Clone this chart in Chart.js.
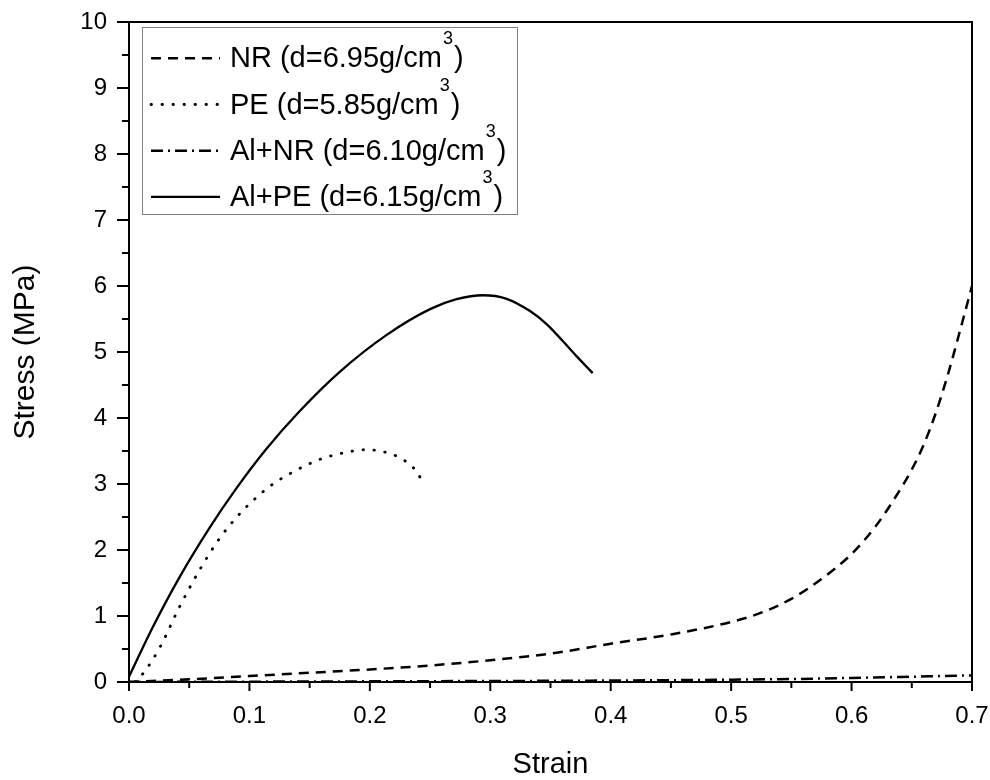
<!DOCTYPE html>
<html>
<head>
<meta charset="utf-8">
<title>Stress vs Strain</title>
<script src="https://cdn.jsdelivr.net/npm/chart.js@4.4.1/dist/chart.umd.min.js"></script>
<style>
  html, body { margin: 0; padding: 0; background: #fff; }
  #wrap { width: 990px; height: 780px; }
</style>
</head>
<body>
<div id="wrap"><canvas id="stressChart" width="990" height="780"></canvas></div>
<script>
//Series names and densities used in the legend
const seriesNames = ["NR", "PE", "Al+NR", "Al+PE"];
const densities = ["6.95", "5.85", "6.10", "6.15"];

//Axis ticks
const strainTicks = [0.0, 0.1, 0.2, 0.3, 0.4, 0.5, 0.6, 0.7];
const stressTicks = [0, 1, 2, 3, 4, 5, 6, 7, 8, 9, 10];

//NR curve (strain, stress)
const nrStrain = [0, 0.05, 0.1, 0.15, 0.2, 0.25, 0.3, 0.35, 0.4, 0.45, 0.5, 0.525, 0.55, 0.575, 0.6, 0.62, 0.635, 0.65, 0.66, 0.67, 0.68, 0.69, 0.7];
const nrStress = [0, 0.04, 0.09, 0.14, 0.19, 0.25, 0.33, 0.43, 0.58, 0.72, 0.91, 1.05, 1.26, 1.56, 1.94, 2.36, 2.76, 3.22, 3.6, 4.08, 4.66, 5.32, 6.0];

//PE curve
const peStrain = [0.005, 0.013, 0.0255, 0.042, 0.0587, 0.0754, 0.092, 0.106, 0.1196, 0.135, 0.158, 0.1806, 0.197, 0.211, 0.2276, 0.2387, 0.2456];
const peStress = [0, 0.16, 0.52, 1.14, 1.7, 2.18, 2.55, 2.8, 3.0, 3.17, 3.37, 3.48, 3.52, 3.49, 3.37, 3.19, 2.97];

//Al+NR curve, stays close to zero
const alnrStrain = [0, 0.1, 0.2, 0.3, 0.4, 0.5, 0.55, 0.6, 0.65, 0.7];
const alnrStress = [0, 0.005, 0.01, 0.015, 0.022, 0.035, 0.045, 0.062, 0.08, 0.1];

//Al+PE curve
const alpeStrain = [0, 0.02, 0.042, 0.067, 0.089, 0.114, 0.142, 0.175, 0.214, 0.25, 0.272, 0.294, 0.313, 0.333, 0.347, 0.36, 0.372, 0.385];
const alpeStress = [0.08, 0.84, 1.59, 2.34, 2.93, 3.53, 4.11, 4.7, 5.26, 5.65, 5.8, 5.86, 5.81, 5.62, 5.42, 5.17, 4.93, 4.68];

const FONT = '"Liberation Sans", Arial, sans-serif';

//Turn two arrays into {x, y} points
function toPoints(xs, ys) {
  return xs.map((x, i) => ({ x: x, y: ys[i] }));
}

function makeLabel(i) {
  return `${seriesNames[i]} (d=${densities[i]}g/cm³)`;
}

//Draws the frame, the tick marks and the boxed legend with a superscript 3
const frameAndLegend = {
  id: "frameAndLegend",
  afterDraw(chart) {
    const ctx = chart.ctx;
    const area = chart.chartArea;
    const xs = chart.scales.x;
    const ys = chart.scales.y;

    ctx.save();
    ctx.strokeStyle = "#000";
    ctx.lineWidth = 2;
    ctx.strokeRect(area.left, area.top, area.right - area.left, area.bottom - area.top);

    //major and minor ticks, pointing out of the plot
    ctx.beginPath();
    for (let i = 0; i < stressTicks.length; i++) {
      const py = ys.getPixelForValue(stressTicks[i]);
      ctx.moveTo(area.left - 12, py);
      ctx.lineTo(area.left, py);
      if (i < stressTicks.length - 1) {
        const my = ys.getPixelForValue((stressTicks[i] + stressTicks[i + 1]) / 2);
        ctx.moveTo(area.left - 7, my);
        ctx.lineTo(area.left, my);
      }
    }
    for (let i = 0; i < strainTicks.length; i++) {
      const px = xs.getPixelForValue(strainTicks[i]);
      ctx.moveTo(px, area.bottom);
      ctx.lineTo(px, area.bottom + 9);
      if (i < strainTicks.length - 1) {
        const mx = xs.getPixelForValue((strainTicks[i] + strainTicks[i + 1]) / 2);
        ctx.moveTo(mx, area.bottom);
        ctx.lineTo(mx, area.bottom + 6);
      }
    }
    ctx.stroke();

    //legend box
    ctx.fillStyle = "#fff";
    ctx.fillRect(142.5, 27.5, 375, 187);
    ctx.lineWidth = 1;
    ctx.strokeStyle = "#808080";
    ctx.strokeRect(142.5, 27.5, 375, 187);

    chart.data.datasets.forEach((ds, i) => {
      const cy = 58.3 + i * 46.2;
      ctx.save();
      ctx.strokeStyle = ds.borderColor;
      ctx.lineWidth = ds.borderWidth;
      ctx.lineCap = ds.borderCapStyle || "butt";
      ctx.setLineDash(ds.borderDash || []);
      ctx.beginPath();
      ctx.moveTo(151, cy);
      ctx.lineTo(220, cy);
      ctx.stroke();
      ctx.restore();

      ctx.fillStyle = "#000";
      ctx.textBaseline = "alphabetic";
      ctx.textAlign = "left";
      const main = `${seriesNames[i]} (d=${densities[i]}g/cm`;
      ctx.font = `29px ${FONT}`;
      ctx.fillText(main, 230, cy + 9);
      let x = 230 + ctx.measureText(main).width + 1;
      ctx.font = `18px ${FONT}`;
      ctx.fillText("3", x, cy - 14);
      x += ctx.measureText("3").width + 1;
      ctx.font = `29px ${FONT}`;
      ctx.fillText(")", x, cy + 9);
    });
    ctx.restore();
  }
};

//Keeps the plot area at fixed pixel edges
function noScalePadding(scale) {
  scale.paddingTop = 0;
  scale.paddingBottom = 0;
  scale.paddingLeft = 0;
  scale.paddingRight = 0;
}

Chart.defaults.font.family = FONT;
Chart.defaults.color = "#000";

const datasets = [
  {
    label: makeLabel(0),
    data: toPoints(nrStrain, nrStress),
    borderColor: "#000",
    borderWidth: 2.5,
    borderDash: [10, 7]
  },
  {
    label: makeLabel(1),
    data: toPoints(peStrain, peStress),
    borderColor: "#000",
    borderWidth: 2.8,
    borderDash: [0.5, 10.5],
    borderCapStyle: "round"
  },
  {
    label: makeLabel(2),
    data: toPoints(alnrStrain, alnrStress),
    borderColor: "#000",
    borderWidth: 2.5,
    borderDash: [12, 5, 2, 5]
  },
  {
    label: makeLabel(3),
    data: toPoints(alpeStrain, alpeStress),
    borderColor: "#000",
    borderWidth: 2.3,
    borderDash: []
  }
];

datasets.forEach((ds) => {
  ds.pointRadius = 0;
  ds.pointHoverRadius = 0;
  ds.fill = false;
  ds.cubicInterpolationMode = "monotone";
});

new Chart(document.getElementById("stressChart"), {
  type: "line",
  data: { datasets: datasets },
  plugins: [frameAndLegend],
  options: {
    responsive: false,
    animation: false,
    devicePixelRatio: 1,
    layout: { padding: { left: 0, top: 22, right: 18, bottom: 0 } },
    plugins: {
      legend: { display: false },
      tooltip: { enabled: false }
    },
    scales: {
      x: {
        type: "linear",
        min: 0,
        max: 0.7,
        afterBuildTicks: (scale) => {
          scale.ticks = strainTicks.map((v) => ({ value: v }));
        },
        afterFit: (scale) => {
          scale.height = 98;
          noScalePadding(scale);
        },
        grid: { display: false, drawTicks: false, tickLength: 0 },
        border: { display: false },
        ticks: {
          padding: 20,
          maxRotation: 0,
          font: { size: 24 },
          callback: (v) => Number(v).toFixed(1)
        },
        title: {
          display: true,
          text: "Strain",
          font: { size: 29, lineHeight: 1 },
          padding: { top: 0, bottom: 1 }
        }
      },
      y: {
        type: "linear",
        min: 0,
        max: 10,
        afterBuildTicks: (scale) => {
          scale.ticks = stressTicks.map((v) => ({ value: v }));
        },
        afterFit: (scale) => {
          scale.width = 129;
          noScalePadding(scale);
        },
        grid: { display: false, drawTicks: false, tickLength: 0 },
        border: { display: false },
        ticks: {
          padding: 22,
          font: { size: 24 },
          callback: (v) => String(v)
        },
        title: {
          display: true,
          text: "Stress (MPa)",
          font: { size: 30, lineHeight: 1 },
          padding: { top: 11, bottom: 0 }
        }
      }
    }
  }
});
</script>
</body>
</html>
